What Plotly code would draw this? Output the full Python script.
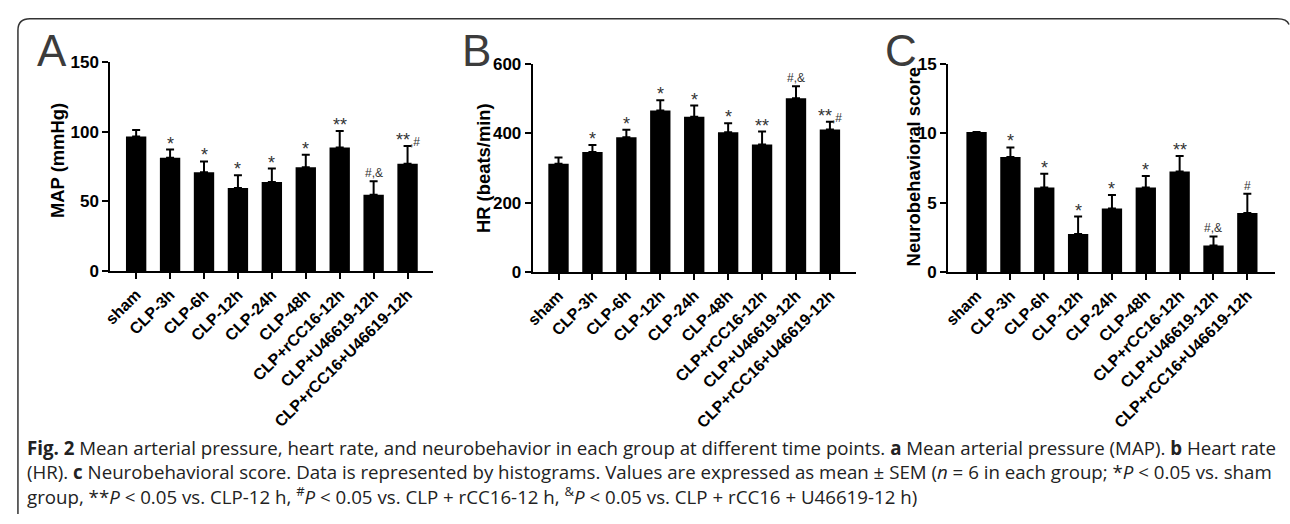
import plotly.graph_objects as go

W, H = 1290, 524

categories = ["sham", "CLP-3h", "CLP-6h", "CLP-12h", "CLP-24h", "CLP-48h",
              "CLP+rCC16-12h", "CLP+U46619-12h", "CLP+rCC16+U46619-12h"]

map_mean = [96.6, 81.4, 70.9, 59.6, 64.0, 74.5, 88.6, 54.8, 77.1]
map_top = [101.2, 87.2, 78.7, 68.8, 73.6, 83.5, 100.5, 64.4, 89.7]
map_sig = ["", "*", "*", "*", "*", "*", "**", "#,&", "**,#"]

hr_mean = [312, 346, 389, 466, 448, 403, 368, 501, 411]
hr_top = [330, 366, 410, 495, 480, 429, 405, 536, 433]
hr_sig = ["", "*", "*", "*", "*", "*", "**", "#,&", "**,#"]

nb_mean = [10.1, 8.29, 6.09, 2.75, 4.58, 6.09, 7.25, 1.92, 4.26]
nb_top = [10.1, 8.98, 7.08, 4.0, 5.56, 6.92, 8.36, 2.57, 5.65]
nb_sig = ["", "*", "*", "*", "*", "*", "**", "#,&", "#"]

panels = [
    dict(letter="A", mean=map_mean, top=map_top, sig=map_sig, title="MAP (mmHg)",
         ymax=150, dtick=50, x0=103, x1=428, y0=272, y1=55, xr=[-0.76, 8.76],
         lx=27, tx=50, ty=157),
    dict(letter="B", mean=hr_mean, top=hr_top, sig=hr_sig, title="HR (beats/min)",
         ymax=600, dtick=200, x0=528, x1=853, y0=273, y1=57, xr=[-0.76, 8.76],
         lx=455, tx=478, ty=165),
    dict(letter="C", mean=nb_mean, top=nb_top, sig=nb_sig, title="Neurobehavioral score",
         ymax=15, dtick=5, x0=946, x1=1275, y0=273, y1=57, xr=[-0.84, 8.82],
         lx=880, tx=911, ty=164),
]

def px(x):
    return x / W

def py(y):
    return 1 - y / H

def sig_text(s):
    # asterisks in the large size, "#" / "&" parts in a smaller size
    stars = s.rstrip(",#&")
    rest = s[len(stars):]
    out = stars
    if rest:
        out += "<span style='font-size:12px'>%s</span>" % rest.replace("&", "&amp;")
    return out

fig = go.Figure()
annotations = []
BOLD = dict(family="Liberation Sans, Arial", color="black", weight="bold")

for i, p in enumerate(panels):
    n = i + 1
    xa = "x" if n == 1 else f"x{n}"
    ya = "y" if n == 1 else f"y{n}"
    idx = list(range(len(categories)))
    err = [t - m for t, m in zip(p["top"], p["mean"])]
    fig.add_trace(go.Bar(
        x=idx, y=p["mean"], width=0.6, marker=dict(color="black", line=dict(width=0)),
        error_y=dict(type="data", symmetric=False, array=err, arrayminus=[0] * len(err),
                     color="black", thickness=2, width=4, visible=True),
        xaxis=xa, yaxis=ya, showlegend=False,
    ))
    fig.layout[f"xaxis{'' if n == 1 else n}"] = dict(
        domain=[px(p["x0"]), px(p["x1"])], range=p["xr"], anchor=ya,
        tickmode="array", tickvals=idx, ticktext=categories, tickangle=-45,
        ticks="outside", ticklen=6, tickwidth=2, tickcolor="black",
        showline=True, linecolor="black", linewidth=2, showgrid=False, zeroline=False,
        tickfont=dict(size=16, **BOLD), fixedrange=True,
    )
    fig.layout[f"yaxis{'' if n == 1 else n}"] = dict(
        domain=[py(p["y0"]), py(p["y1"])], range=[0, p["ymax"]], anchor=xa,
        tickmode="linear", tick0=0, dtick=p["dtick"],
        ticks="outside", ticklen=6, tickwidth=2, tickcolor="black",
        showline=True, linecolor="black", linewidth=2, showgrid=False, zeroline=False,
        tickfont=dict(size=17, **BOLD), fixedrange=True,
    )
    for j, s in enumerate(p["sig"]):
        if not s:
            continue
        has_star = s.startswith("*")
        annotations.append(dict(
            x=j, y=p["top"][j], xref=xa, yref=ya, text=sig_text(s), showarrow=False,
            xanchor="center", yanchor="bottom", yshift=-6 if has_star else -1,
            font=dict(family="Liberation Sans, Arial", size=18 if has_star else 12,
                      color="#333333"),
        ))
    annotations.append(dict(
        x=px(p["lx"]), y=py(71), xref="paper", yref="paper", text=p["letter"],
        showarrow=False, xanchor="left", yanchor="bottom",
        font=dict(family="Liberation Sans, Arial", size=44, color="#3c3c3c"),
    ))
    annotations.append(dict(
        x=px(p["tx"]), y=py(p["ty"]), xref="paper", yref="paper", text=p["title"],
        showarrow=False, xanchor="center", yanchor="middle", textangle=-90,
        font=dict(size=18.4, **BOLD),
    ))

caption_lines = [
    "<b>Fig. 2</b> Mean arterial pressure, heart rate, and neurobehavior in each group at different time points. "
    "<b>a</b> Mean arterial pressure (MAP). <b>b</b> Heart rate",
    "(HR). <b>c</b> Neurobehavioral score. Data is represented by histograms. Values are expressed as mean ± SEM "
    "(<i>n</i> = 6 in each group; *<i>P</i> &lt; 0.05 vs. sham",
    "group, **<i>P</i> &lt; 0.05 vs. CLP-12 h, <sup>#</sup><i>P</i> &lt; 0.05 vs. CLP + rCC16-12 h, "
    "<sup>&amp;</sup><i>P</i> &lt; 0.05 vs. CLP + rCC16 + U46619-12 h)",
]
annotations.append(dict(
    x=px(17), y=py(480), xref="paper", yref="paper", text="<br>".join(caption_lines),
    showarrow=False, xanchor="left", yanchor="middle", align="left",
    font=dict(family="Open Sans", size=18.7, color="#222222"),
))

frame = "M %f,%f L %f,%f Q %f,%f %f,%f L %f,%f Q %f,%f %f,%f" % (
    px(10), py(524), px(10), py(22), px(10), py(10), px(22), py(10),
    px(1277), py(10), px(1287), py(10), px(1289), py(16))

fig.update_layout(
    width=W, height=H, autosize=False,
    margin=dict(l=0, r=0, t=0, b=0),
    paper_bgcolor="white", plot_bgcolor="white",
    annotations=annotations, bargap=0.4,
    shapes=[dict(type="path", path=frame, xref="paper", yref="paper",
                 line=dict(color="#333333", width=1.5))],
)

fig.write_html("out.html", config={"displayModeBar": False},
               post_script="document.body.style.margin='0';document.body.style.overflow='hidden';")
